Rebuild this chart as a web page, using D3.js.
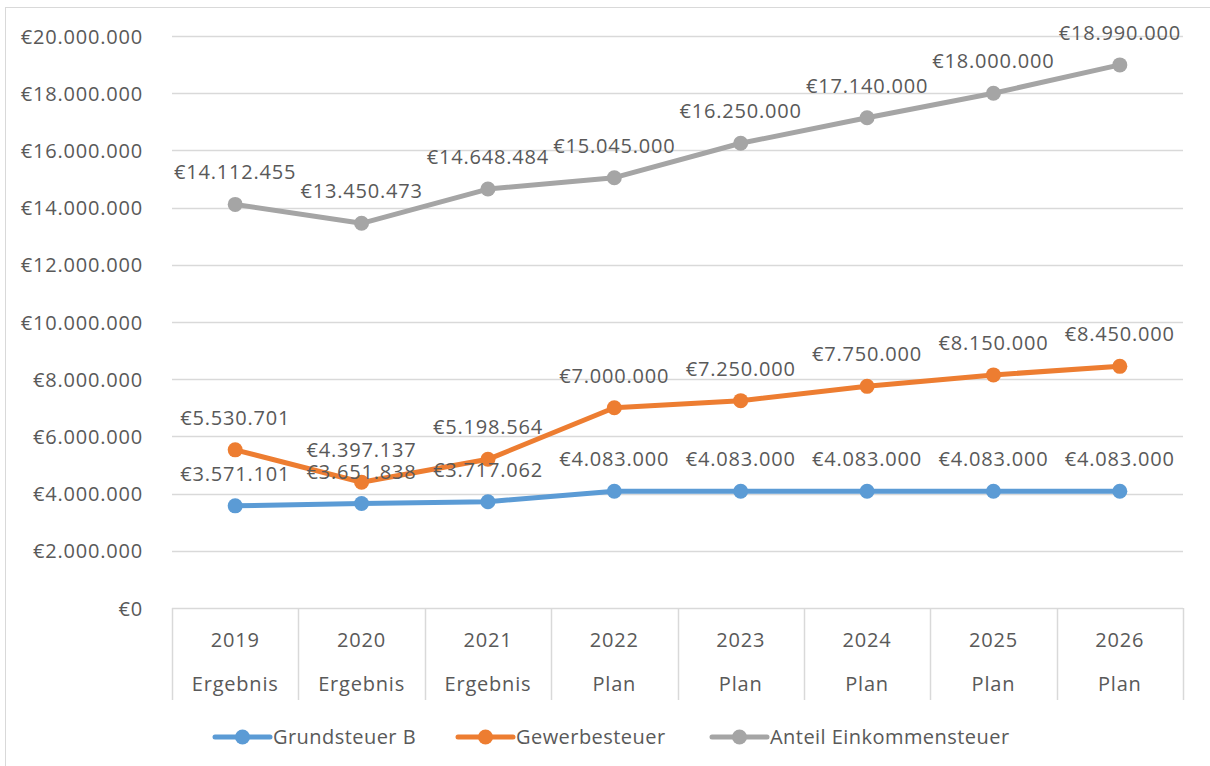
<!DOCTYPE html>
<html><head><meta charset="utf-8">
<script src="https://cdn.jsdelivr.net/npm/d3@7"></script>
<style>
html,body{margin:0;padding:0;background:#fff;}
text{font-family:"Open Sans",sans-serif;fill:#595959;}
</style></head>
<body>
<svg id="c" width="1210" height="766"></svg>
<script>
const years = ["2019","2020","2021","2022","2023","2024","2025","2026"];
const phases = ["Ergebnis","Ergebnis","Ergebnis","Plan","Plan","Plan","Plan","Plan"];
const seriesNames = ["Grundsteuer B","Gewerbesteuer","Anteil Einkommensteuer"];
const grundsteuer = [3571101,3651838,3717062,4083000,4083000,4083000,4083000,4083000];
const gewerbesteuer = [5530701,4397137,5198564,7000000,7250000,7750000,8150000,8450000];
const einkommensteuer = [14112455,13450473,14648484,15045000,16250000,17140000,18000000,18990000];
const yTicks = [0,2000000,4000000,6000000,8000000,10000000,12000000,14000000,16000000,18000000,20000000];
const colors = ["#5B9BD5","#ED7D31","#A5A5A5"];

const series = [grundsteuer, gewerbesteuer, einkommensteuer];
const loc = d3.formatLocale({decimal:",",thousands:".",grouping:[3],currency:["€",""]});
const fmt = loc.format("$,.0f");

const svg = d3.select("#c");
const L=172, R=1183, T=36, B=608;
const x = d3.scaleBand().domain(years).range([L,R]);
const y = d3.scaleLinear().domain([0,20000000]).range([B,T]);
const ls = "0.8px";

// outer border
svg.append("rect").attr("x",5.5).attr("y",7.5).attr("width",1220).attr("height",780)
  .attr("fill","none").attr("stroke","#D9D9D9").attr("stroke-width",1);

// gridlines
svg.append("g").selectAll("line").data(yTicks).join("line")
  .attr("x1",L).attr("x2",R).attr("y1",d=>Math.round(y(d))+0.5).attr("y2",d=>Math.round(y(d))+0.5)
  .attr("stroke","#D9D9D9").attr("stroke-width",1.5);

// y axis labels
const yAxis = d3.axisLeft(y).tickValues(yTicks).tickFormat(fmt).tickSize(0).tickPadding(0);
const ya = svg.append("g").attr("transform",`translate(${143},0)`).call(yAxis);
ya.select(".domain").remove();
ya.selectAll("text").attr("font-size",20).attr("font-family","Open Sans").attr("fill","#595959")
  .style("letter-spacing",ls).attr("dy","0.35em");

// x axis box lines
const bounds = years.map(d=>x(d)).concat([R]);
svg.append("g").selectAll("line").data(bounds).join("line")
  .attr("x1",d=>Math.round(d)+0.5).attr("x2",d=>Math.round(d)+0.5).attr("y1",B).attr("y2",700)
  .attr("stroke","#D9D9D9").attr("stroke-width",1.5);

const xg = svg.append("g");
xg.selectAll("text.yr").data(years).join("text").attr("class","yr")
  .attr("x",d=>x(d)+x.bandwidth()/2).attr("y",647).attr("text-anchor","middle")
  .attr("font-size",20).style("letter-spacing",ls).text(d=>d);
xg.selectAll("text.ph").data(years).join("text").attr("class","ph")
  .attr("x",d=>x(d)+x.bandwidth()/2).attr("y",691).attr("text-anchor","middle")
  .attr("font-size",20).style("letter-spacing",ls).text((d,i)=>phases[i]);

// lines
const line = d3.line().x((d,i)=>x(years[i])+x.bandwidth()/2).y(d=>y(d));
series.forEach((s,k)=>{
  svg.append("path").datum(s).attr("d",line).attr("fill","none")
    .attr("stroke",colors[k]).attr("stroke-width",5).attr("stroke-linejoin","round").attr("stroke-linecap","round");
  svg.append("g").selectAll("circle").data(s).join("circle")
    .attr("cx",(d,i)=>x(years[i])+x.bandwidth()/2).attr("cy",d=>y(d)).attr("r",7.5).attr("fill",colors[k]);
});
// labels
series.forEach((s,k)=>{
  svg.append("g").selectAll("text").data(s).join("text")
    .attr("x",(d,i)=>x(years[i])+x.bandwidth()/2).attr("y",d=>y(d)-25)
    .attr("text-anchor","middle").attr("font-size",20).style("letter-spacing",ls)
    .attr("fill","#404040").text(d=>fmt(d));
});

// legend
const legX = [215,458,712];
const lg = svg.append("g");
seriesNames.forEach((n,k)=>{
  const g = lg.append("g").attr("transform",`translate(${legX[k]},737)`);
  g.append("line").attr("x1",0).attr("x2",55).attr("y1",0).attr("y2",0)
    .attr("stroke",colors[k]).attr("stroke-width",5).attr("stroke-linecap","round");
  g.append("circle").attr("cx",27.5).attr("cy",0).attr("r",7.5).attr("fill",colors[k]);
  g.append("text").attr("x",58).attr("y",7).attr("font-size",20).style("letter-spacing","0.45px").text(n);
});
</script>
</body></html>
